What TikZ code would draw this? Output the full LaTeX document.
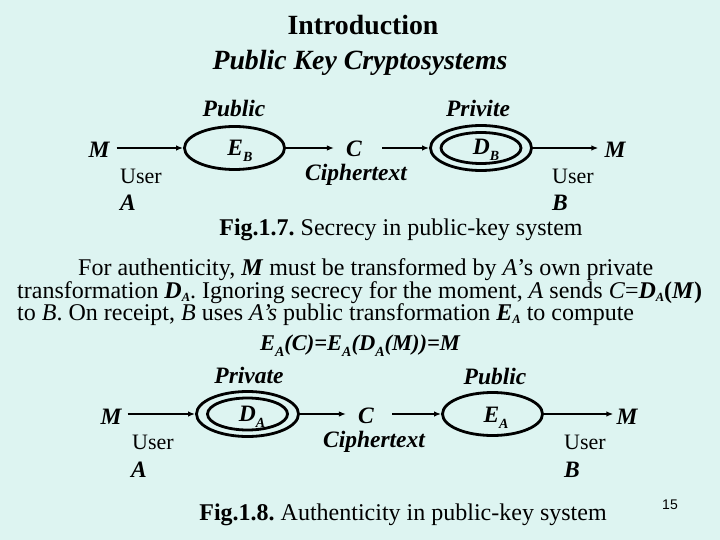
\documentclass[tikz,border=0pt]{standalone}
\usepackage{fontspec}
\setmainfont{Liberation Serif}
\setsansfont{Liberation Sans}
\usetikzlibrary{arrows.meta,shapes.geometric}
\definecolor{bgcol}{RGB}{221,244,241}
\newcommand{\mysub}[1]{\raisebox{-0.6ex}{\fontsize{14}{14}\selectfont #1}}
\newcommand{\psub}[1]{\raisebox{-0.35ex}{\fontsize{12.5}{12.5}\selectfont\bfseries\itshape #1}}
\newcommand{\bi}[1]{\textbf{\textit{#1}}}
\frenchspacing
\tikzset{
  lbl/.style={inner sep=0pt, font=\fontsize{23.5}{25}\selectfont\bfseries\itshape},
  usr/.style={inner sep=0pt, anchor=west, font=\fontsize{22}{24}\selectfont},
  oval/.style={ellipse, draw=black, line width=2.8pt, inner sep=0pt},
  arr/.style={-{Latex[length=7pt,width=5.5pt]}, line width=1.6pt},
  para/.style={inner sep=0pt, anchor=base west, font=\fontsize{24}{24}\selectfont},
  figcap/.style={inner sep=0pt, font=\fontsize{24}{24}\selectfont}
}
\begin{document}
\begin{tikzpicture}[x=1pt,y=-1pt]
\fill[bgcol] (0,0) rectangle (720,540);
\useasboundingbox (0,0) rectangle (720,540);
% titles
\node[inner sep=0pt, font=\fontsize{27.8}{29}\selectfont\bfseries] (t1) at (363,25) {Introduction};
\node[inner sep=0pt, font=\fontsize{27.8}{29}\selectfont\bfseries\itshape] (t2) at (360,63) {Public Key Cryptosystems};
% ---------- Fig 1.7 ----------
\node[lbl] (m1) at (99,150) {M};
\node[oval, minimum width=100pt, minimum height=43pt] (e1) at (234.5,148) {};
\node[lbl] (e1t) at (240,151) {E\mysub{B}};
\node[lbl] (c1) at (354,149) {C};
\node[oval, minimum width=101pt, minimum height=45pt] (d1) at (481,148) {};
\node[oval, minimum width=80pt, minimum height=31pt] (d1in) at (481,148) {};
\node[lbl] (d1t) at (486,150) {D\mysub{B}};
\node[lbl] (m2) at (615,150) {M};
\node[lbl] (pub1) at (234,108) {Public};
\node[lbl] (priv1) at (478,108) {Privite};
\node[lbl] (ct1) at (356,175) {Ciphertext};
\node[usr] (u1) at (120,176) {User};
\node[lbl, anchor=west] (a1) at (120,203) {A};
\node[usr] (u2) at (552,176) {User};
\node[lbl, anchor=west] (b1) at (552,203) {B};
\draw[arr, shorten <=7pt] (m1.east |- e1.west) -- (e1.west);
\draw[arr, shorten >=12pt] (e1.east) -- (c1.west |- e1.east);
\draw[arr, shorten <=20pt] (c1.east |- d1.west) -- (d1.west);
\draw[arr, shorten >=6pt] (d1.east) -- (m2.west |- d1.east);
\node[figcap] (cap1) at (401,230) {\textbf{Fig.1.7.} Secrecy in public-key system};
% ---------- paragraph ----------
\node[para] (p1) at (78,275) {For authenticity, \bi{M} must be transformed by \textit{A}’s own private};
\node[para] (p2) at (17,298) {transformation \bi{D}\psub{A}. Ignoring secrecy for the moment, \textit{A} sends \textit{C}=\bi{D}\psub{A}\textbf{(}\bi{M}\textbf{)}};
\node[para] (p3) at (17,320) {to \textit{B}. On receipt, \textit{B} uses \textit{A’s} public transformation \bi{E}\psub{A} to compute};
\node[inner sep=0pt, anchor=base, font=\fontsize{22.5}{23}\selectfont\bfseries\itshape] (eq) at (360,350) {E\mysub{A}(C)=E\mysub{A}(D\mysub{A}(M))=M};
% ---------- Fig 1.8 ----------
\node[lbl] (m3) at (111,417) {M};
\node[oval, minimum width=102pt, minimum height=45pt] (d2) at (247.5,414) {};
\node[oval, minimum width=80pt, minimum height=32pt] (d2in) at (247.5,414) {};
\node[lbl] (d2t) at (252,417) {D\mysub{A}};
\node[lbl] (c2) at (366,416) {C};
\node[oval, minimum width=100pt, minimum height=43pt] (e2) at (492.5,414) {};
\node[lbl] (e2t) at (496,418) {E\mysub{A}};
\node[lbl] (m4) at (627,417) {M};
\node[lbl] (priv2) at (249,375) {Private};
\node[lbl] (pub2) at (495,376) {Public};
\node[lbl] (ct2) at (374,442) {Ciphertext};
\node[usr] (u3) at (132,442) {User};
\node[lbl, anchor=west] (a2) at (131,470) {A};
\node[usr] (u4) at (564,442) {User};
\node[lbl, anchor=west] (b2) at (564,470) {B};
\draw[arr, shorten <=6pt] (m3.east |- d2.west) -- (d2.west);
\draw[arr, shorten >=12pt] (d2.east) -- (c2.west |- d2.east);
\draw[arr, shorten <=18pt] (c2.east |- e2.west) -- (e2.west);
\draw[arr, shorten >=3pt] (e2.east) -- (m4.west |- e2.east);
\node[figcap] (cap2) at (403,515) {\textbf{Fig.1.8.} Authenticity in public-key system};
\node[inner sep=0pt, font=\sffamily\fontsize{14}{16}\selectfont] (pg) at (670,505) {15};
\end{tikzpicture}
\end{document}
